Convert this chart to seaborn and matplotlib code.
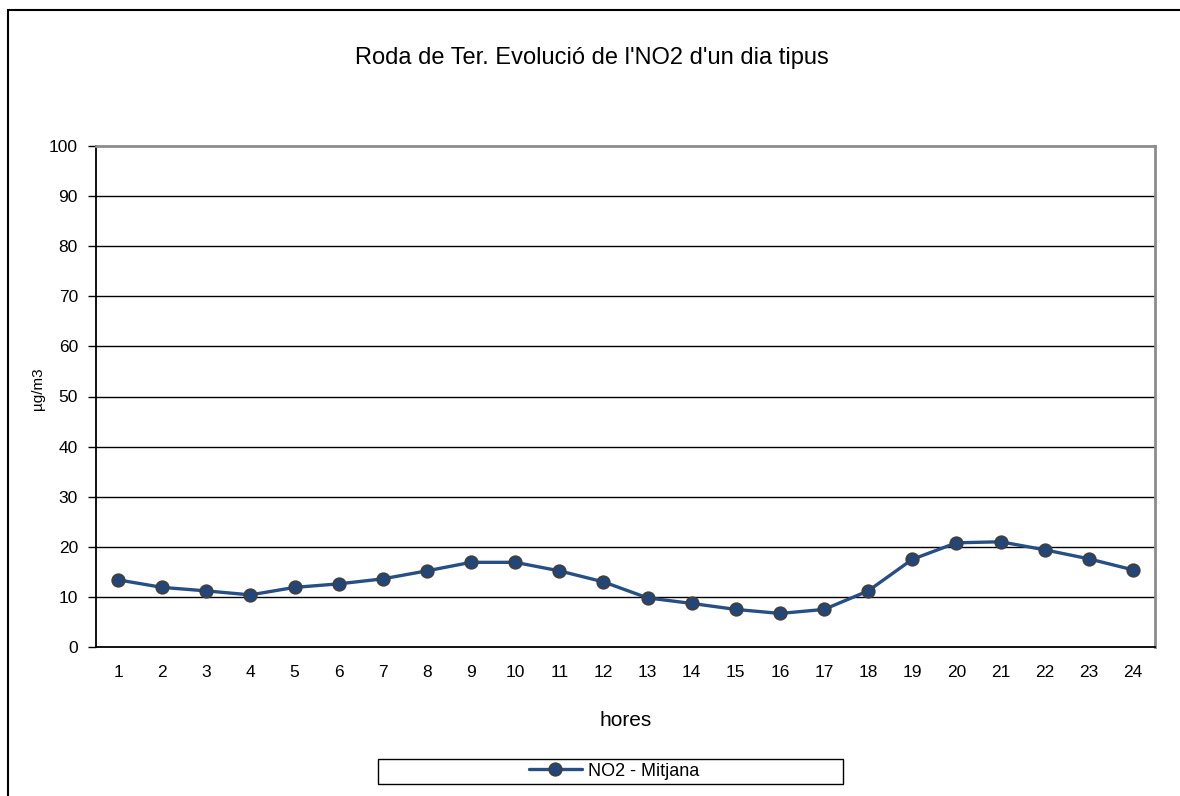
import numpy as np
import pandas as pd
import matplotlib
matplotlib.use("Agg")
import matplotlib.pyplot as plt
import seaborn as sns
from matplotlib.patches import Rectangle
from matplotlib.ticker import MultipleLocator, FixedLocator

hours = list(range(1, 25))
no2_mean = [13.4, 11.9, 11.2, 10.4, 11.9, 12.6, 13.6, 15.2, 16.9, 16.9, 15.2, 13.0,
            9.8, 8.7, 7.5, 6.7, 7.5, 11.2, 17.5, 20.8, 21.0, 19.4, 17.6, 15.4]
series_name = "NO2 - Mitjana"

df = pd.DataFrame({"hores": hours, "valor": no2_mean})

sns.set_style("white")
plt.rcParams["font.family"] = ["Liberation Sans", "DejaVu Sans"]
plt.rcParams.update({"text.color": "black", "axes.labelcolor": "black",
                     "xtick.color": "black", "ytick.color": "black"})

fig = plt.figure(figsize=(11.8, 7.96), dpi=100)
ax = fig.add_axes([96 / 1180, 1 - 647 / 796, (1155 - 96) / 1180, (647 - 146) / 796])

sns.lineplot(data=df, x="hores", y="valor", ax=ax, color="#264f85", lw=2.4,
             marker="o", markersize=9, markerfacecolor="#22467a",
             markeredgecolor="#404040", markeredgewidth=1.3, label=series_name,
             legend=False)

ax.set_xlim(0.5, 24.5)
ax.set_ylim(0, 100)
ax.yaxis.set_major_locator(MultipleLocator(10))
for v in range(10, 100, 10):
    ax.axhline(v, color="black", lw=1, zorder=0)

ax.xaxis.set_major_locator(FixedLocator(np.arange(0.5, 25, 1)))
ax.xaxis.set_minor_locator(FixedLocator(hours))
ax.set_xticklabels([])
ax.set_xticklabels([str(h) for h in hours], minor=True)
ax.tick_params(axis="x", which="major", length=6, width=1, direction="out")
ax.tick_params(axis="x", which="minor", length=0, pad=13, labelsize=12.5)
ax.tick_params(axis="y", length=6, width=1, direction="out",
               pad=7, labelsize=12.5, left=True)

for s in ["left", "bottom"]:
    ax.spines[s].set_color("black")
    ax.spines[s].set_linewidth(1.3)
for s in ["top", "right"]:
    ax.spines[s].set_color("#8c8c8c")
    ax.spines[s].set_linewidth(2)

ax.set_xlabel("hores", fontsize=15, labelpad=22)
ax.set_ylabel("µg/m3", fontsize=11)
ax.yaxis.set_label_coords(-0.048, 0.515)

fig.text(592 / 1180, 1 - 58 / 796, "Roda de Ter. Evolució de l'NO2 d'un dia tipus",
         ha="center", va="center", fontsize=17)

# chart border
fig.patches.append(Rectangle((8 / 1180, -0.1), 1.1, 1.1 - 10 / 796, transform=fig.transFigure,
                             fill=False, edgecolor="black", lw=1.5))
# legend box
fig.patches.append(Rectangle((378 / 1180, 1 - 784 / 796), 465 / 1180, 25 / 796,
                             transform=fig.transFigure, fill=False, edgecolor="black", lw=1))
handles, labels = ax.get_legend_handles_labels()
fig.legend(handles, labels, loc="center", bbox_to_anchor=(614 / 1180, 1 - 771 / 796),
           frameon=False, fontsize=13, handlelength=2.9, handletextpad=0.33)

fig.savefig("out.png", dpi=100)
